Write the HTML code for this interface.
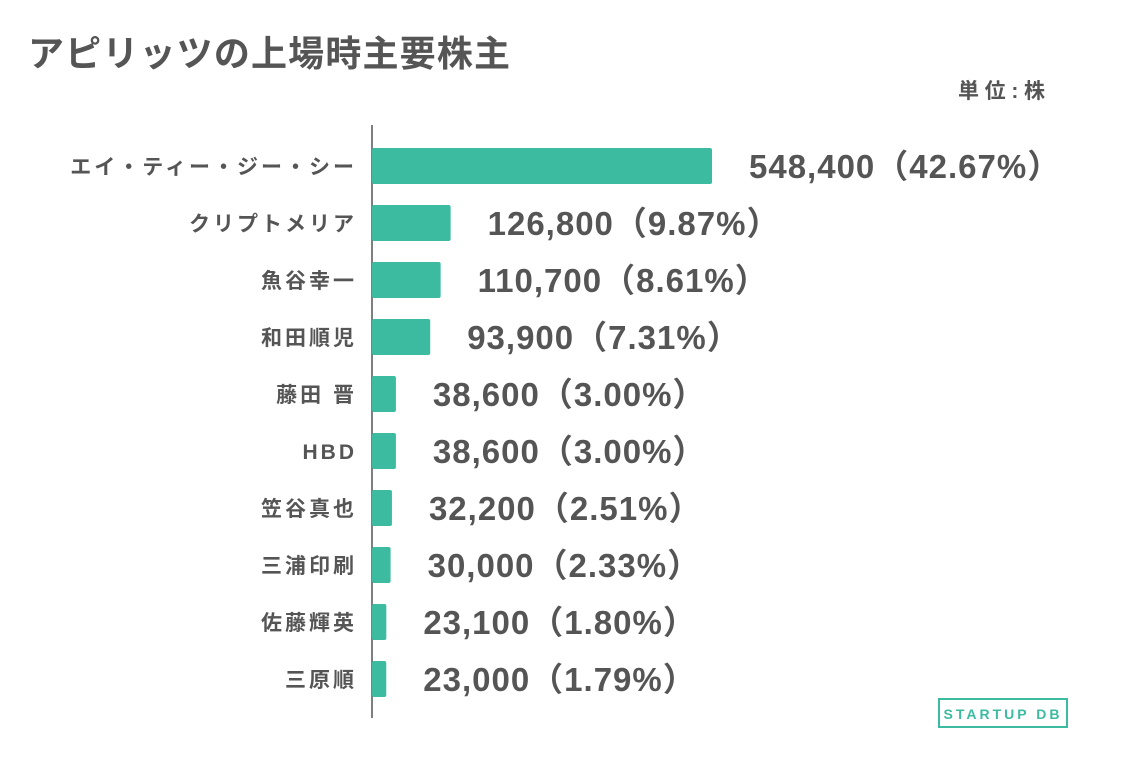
<!DOCTYPE html>
<html><head><meta charset="utf-8"><style>
body{margin:0;background:#fff;width:1132px;height:755px;overflow:hidden;font-family:"Liberation Sans","Noto Sans CJK JP",sans-serif;}
</style></head><body>
<svg width="1132" height="755" xmlns="http://www.w3.org/2000/svg">
<text x="28" y="66" font-size="36" font-weight="bold" fill="#555" textLength="482">アピリッツの上場時主要株主</text>
<text x="958" y="98" font-size="21" font-weight="bold" fill="#555" textLength="87">単位:株</text>
<line x1="372" y1="125" x2="372" y2="718" stroke="#555" stroke-width="1.5"/>
<g id="bars"></g>
<g>
<rect x="939" y="699" width="128" height="28" fill="none" stroke="#3dbba0" stroke-width="2"/>
<text x="1003" y="719" font-size="14" font-weight="bold" fill="#3dbba0" text-anchor="middle" letter-spacing="3">STARTUP DB</text>
</g>
</svg>
<script>
const categories=["エイ・ティー・ジー・シー","クリプトメリア","魚谷幸一","和田順児","藤田 晋","HBD","笠谷真也","三浦印刷","佐藤輝英","三原順"];
const shares=[548400,126800,110700,93900,38600,38600,32200,30000,23100,23000];
const percents=["42.67","9.87","8.61","7.31","3.00","3.00","2.51","2.33","1.80","1.79"];
const ns="http://www.w3.org/2000/svg";
const g=document.getElementById('bars');
const x0=372,scale=340/548400,y0=166,step=57,bh=36;
function xs(v){return x0+v*scale;}
function ys(i){return y0+i*step;}
categories.forEach((c,i)=>{
  const r=document.createElementNS(ns,'rect');
  
  
  r.setAttribute('x',x0);r.setAttribute('y',ys(i)-bh/2);
  r.setAttribute('width',xs(shares[i])-x0);r.setAttribute('height',bh);
  r.setAttribute('rx',2);r.setAttribute('fill','#3dbba0');
  g.appendChild(r);
  const t=document.createElementNS(ns,'text');
  
  
  t.setAttribute('x',357);t.setAttribute('y',ys(i)+8);
  t.setAttribute('text-anchor','end');t.setAttribute('font-size','21');
  t.setAttribute('letter-spacing','3');
  t.setAttribute('font-weight','bold');t.setAttribute('fill','#555');
  t.textContent=c;g.appendChild(t);
  const v=document.createElementNS(ns,'text');
  
  
  v.setAttribute('x',xs(shares[i])+37);v.setAttribute('y',ys(i)+12);
  v.setAttribute('font-size','33');v.setAttribute('font-weight','bold');v.setAttribute('fill','#555');
  v.setAttribute('letter-spacing','1');
  v.textContent=shares[i].toLocaleString('en-US')+'（'+percents[i]+'%）';
  g.appendChild(v);
});
</script>
</body></html>
